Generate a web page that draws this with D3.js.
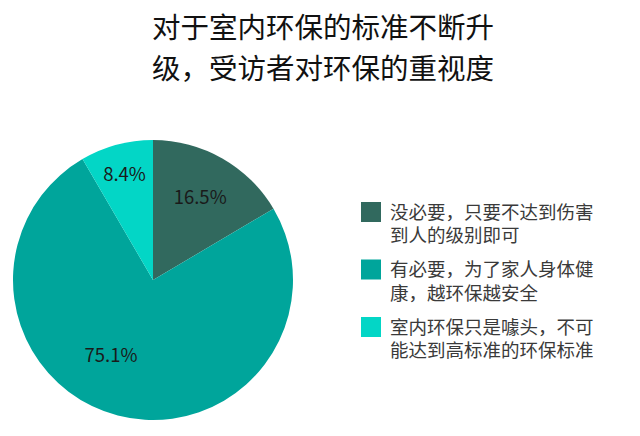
<!DOCTYPE html>
<html>
<head>
<meta charset="utf-8">
<script src="https://cdn.jsdelivr.net/npm/d3@7"></script>
<style>
html,body{margin:0;padding:0;background:#fff;}
svg{display:block;}
text{font-family:"Noto Sans CJK SC","Noto Sans",sans-serif;}
</style>
</head>
<body>
<svg id="chart" width="640" height="436"></svg>
<script>
const titleLines = ["对于室内环保的标准不断升", "级，受访者对环保的重视度"];
const categories = [
  ["没必要，只要不达到伤害", "到人的级别即可"],
  ["有必要，为了家人身体健", "康，越环保越安全"],
  ["室内环保只是噱头，不可", "能达到高标准的环保标准"]
];
const values = [16.5, 75.1, 8.4];
const valueLabels = ["16.5%", "75.1%", "8.4%"];
const colors = ["#31695e", "#00a59b", "#03d6c6"];

const svg = d3.select("#chart");

// title
svg.append("g").selectAll("text").data(titleLines).join("text")
  .attr("x", 323)
  .attr("y", (d, i) => 38 + i * 41)
  .attr("text-anchor", "middle")
  .attr("font-size", 28.5)
  .attr("fill", "#111")
  .text(d => d);

// pie
const cx = 153, cy = 280, r = 140;
const pie = d3.pie().sort(null).value(d => d);
const arcs = pie(values);
const arc = d3.arc().innerRadius(0).outerRadius(r);
const labelRadius = [0.68, 0.62, 0.78];
const labelShift = [0, 0.25, 0];
const g = svg.append("g").attr("transform", `translate(${cx},${cy})`);
g.selectAll("path").data(arcs).join("path")
  .attr("d", arc)
  .attr("fill", (d, i) => colors[i]);

g.selectAll("text").data(arcs).join("text")
  .attr("transform", (d, i) => {
    const a = (d.startAngle + d.endAngle) / 2 + labelShift[i];
    const rr = r * labelRadius[i];
    return `translate(${Math.sin(a) * rr},${-Math.cos(a) * rr})`;
  })
  .attr("text-anchor", "middle")
  .attr("dy", "0.35em")
  .attr("font-size", 18.5)
  .attr("fill", "#1a1a1a")
  .text((d, i) => valueLabels[i]);

// legend
const lg = svg.append("g").attr("transform", "translate(361,202)");
const item = lg.selectAll("g").data(categories).join("g")
  .attr("transform", (d, i) => `translate(0,${i * 57.5})`);
item.append("rect")
  .attr("width", 20).attr("height", 20)
  .attr("fill", (d, i) => colors[i]);
item.selectAll("text").data(d => d).join("text")
  .attr("x", 29)
  .attr("y", (d, j) => 16.5 + j * 23.5)
  .attr("font-size", 18.5)
  .attr("fill", "#3a3a3a")
  .text(d => d);
</script>
</body>
</html>
